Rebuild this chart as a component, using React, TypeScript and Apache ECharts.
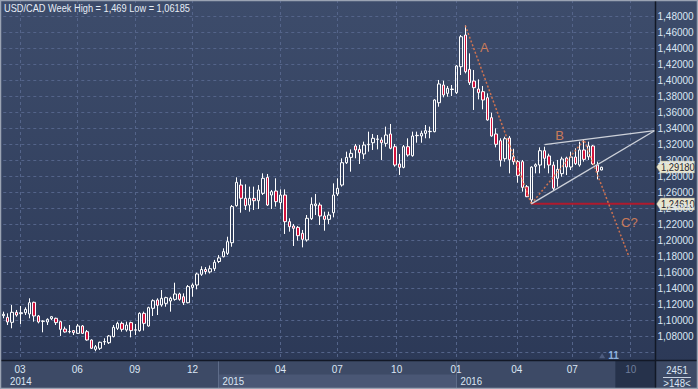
import React, { useEffect, useRef } from 'react';
import * as echarts from 'echarts';

// Weekly USD/CAD candles: [open, close, low, high]
const candles: number[][] = [
  [1.1063, 1.1080, 1.1030, 1.1113], [1.1042, 1.0984, 1.0946, 1.1092], [1.0980, 1.1105, 1.0905, 1.1196],
  [1.1105, 1.1071, 1.1050, 1.1134], [1.1088, 1.1100, 1.0959, 1.1184], [1.1100, 1.1142, 1.1071, 1.1167],
  [1.1084, 1.1225, 1.1030, 1.1280], [1.1230, 1.1059, 1.0988, 1.1238], [1.1059, 1.0984, 1.0967, 1.1071],
  [1.0992, 1.0996, 1.0855, 1.1005], [1.0984, 1.1017, 1.0946, 1.1030], [1.1025, 1.1050, 1.1009, 1.1059],
  [1.1030, 1.0976, 1.0946, 1.1038], [1.0988, 1.0892, 1.0809, 1.1000], [1.0896, 1.0859, 1.0850, 1.0926],
  [1.0865, 1.0862, 1.0842, 1.0946], [1.0876, 1.0851, 1.0821, 1.0884], [1.0842, 1.0934, 1.0834, 1.0959],
  [1.0934, 1.0842, 1.0834, 1.0946], [1.0863, 1.0759, 1.0750, 1.0884], [1.0759, 1.0655, 1.0646, 1.0767],
  [1.0642, 1.0675, 1.0618, 1.0696], [1.0655, 1.0730, 1.0634, 1.0738], [1.0736, 1.0740, 1.0696, 1.0780],
  [1.0725, 1.0809, 1.0709, 1.0821], [1.0801, 1.0917, 1.0792, 1.0946], [1.0905, 1.0967, 1.0884, 1.0988],
  [1.0967, 1.0892, 1.0863, 1.0988], [1.0884, 1.0946, 1.0863, 1.0988], [1.0976, 1.0876, 1.0792, 1.0988],
  [1.0882, 1.0886, 1.0821, 1.0959], [1.0876, 1.1092, 1.0863, 1.1105], [1.1092, 1.0967, 1.0876, 1.1113],
  [1.0934, 1.1163, 1.0926, 1.1175], [1.1155, 1.1250, 1.1059, 1.1267], [1.1259, 1.1192, 1.1071, 1.1280],
  [1.1196, 1.1280, 1.1175, 1.1384], [1.1217, 1.1288, 1.1175, 1.1300], [1.1246, 1.1280, 1.1113, 1.1300],
  [1.1267, 1.1334, 1.1250, 1.1475], [1.1334, 1.1267, 1.1250, 1.1350], [1.1300, 1.1225, 1.1196, 1.1342],
  [1.1225, 1.1426, 1.1217, 1.1446], [1.1417, 1.1446, 1.1300, 1.1467], [1.1446, 1.1584, 1.1392, 1.1600],
  [1.1580, 1.1640, 1.1560, 1.1680], [1.1640, 1.1615, 1.1580, 1.1670], [1.1610, 1.1650, 1.1590, 1.1690],
  [1.1650, 1.1730, 1.1620, 1.1760], [1.1740, 1.1785, 1.1720, 1.1820], [1.1800, 1.1863, 1.1792, 1.1905],
  [1.1842, 1.1988, 1.1821, 1.2050], [1.1975, 1.2426, 1.1925, 1.2446], [1.2438, 1.2730, 1.2426, 1.2792],
  [1.2696, 1.2530, 1.2350, 1.2767], [1.2530, 1.2438, 1.2384, 1.2705], [1.2446, 1.2530, 1.2363, 1.2676],
  [1.2530, 1.2500, 1.2384, 1.2676], [1.2500, 1.2634, 1.2396, 1.2696], [1.2592, 1.2780, 1.2571, 1.2842],
  [1.2792, 1.2446, 1.2434, 1.2834], [1.2571, 1.2613, 1.2396, 1.2634], [1.2621, 1.2488, 1.2426, 1.2780],
  [1.2476, 1.2571, 1.2392, 1.2642], [1.2571, 1.2238, 1.2084, 1.2642], [1.2238, 1.2175, 1.2113, 1.2280],
  [1.2184, 1.2155, 1.1934, 1.2209], [1.2167, 1.2063, 1.2000, 1.2184], [1.2092, 1.2017, 1.1917, 1.2134],
  [1.2009, 1.2280, 1.1988, 1.2321], [1.2275, 1.2455, 1.2259, 1.2542], [1.2438, 1.2459, 1.2321, 1.2584],
  [1.2446, 1.2309, 1.2196, 1.2476], [1.2309, 1.2267, 1.2125, 1.2363], [1.2267, 1.2321, 1.2209, 1.2363],
  [1.2350, 1.2571, 1.2292, 1.2717], [1.2584, 1.2655, 1.2559, 1.2780], [1.2696, 1.2975, 1.2676, 1.3030],
  [1.2975, 1.3042, 1.2959, 1.3113], [1.3042, 1.3092, 1.2863, 1.3142], [1.3184, 1.3134, 1.3030, 1.3209],
  [1.3142, 1.3100, 1.2959, 1.3196], [1.3084, 1.3196, 1.3021, 1.3238], [1.3200, 1.3205, 1.3113, 1.3363],
  [1.3225, 1.3280, 1.3134, 1.3334], [1.3267, 1.3271, 1.3142, 1.3321], [1.3259, 1.3225, 1.3009, 1.3292],
  [1.3217, 1.3321, 1.3175, 1.3426], [1.3334, 1.3155, 1.3142, 1.3459], [1.3175, 1.2946, 1.2925, 1.3209],
  [1.2959, 1.2917, 1.2822, 1.3084], [1.2917, 1.3175, 1.2905, 1.3196], [1.3175, 1.3071, 1.3050, 1.3280],
  [1.3063, 1.3309, 1.3050, 1.3363], [1.3313, 1.3317, 1.3225, 1.3363], [1.3309, 1.3342, 1.3225, 1.3375],
  [1.3342, 1.3375, 1.3280, 1.3446], [1.3363, 1.3367, 1.3280, 1.3426], [1.3363, 1.3759, 1.3355, 1.3767],
  [1.3725, 1.3959, 1.3675, 1.4009], [1.3946, 1.3821, 1.3792, 1.4000], [1.3842, 1.3905, 1.3800, 1.3934],
  [1.3890, 1.3895, 1.3809, 1.3946], [1.3851, 1.4184, 1.3834, 1.4196], [1.4175, 1.4550, 1.4071, 1.4571],
  [1.4571, 1.4113, 1.4092, 1.4690], [1.4142, 1.3975, 1.3946, 1.4342], [1.3996, 1.3913, 1.3634, 1.4134],
  [1.3896, 1.3850, 1.3767, 1.4017], [1.3863, 1.3759, 1.3642, 1.3934], [1.3788, 1.3509, 1.3500, 1.3842],
  [1.3538, 1.3309, 1.3300, 1.3600], [1.3334, 1.3205, 1.3167, 1.3405], [1.3250, 1.3005, 1.2926, 1.3280],
  [1.3025, 1.3275, 1.2988, 1.3300], [1.3284, 1.3013, 1.2842, 1.3309], [1.3050, 1.2988, 1.2950, 1.3150],
  [1.2988, 1.2817, 1.2725, 1.3009], [1.2988, 1.2667, 1.2613, 1.3009], [1.2675, 1.2550, 1.2545, 1.2696],
  [1.2510, 1.2920, 1.2461, 1.2930], [1.2930, 1.2950, 1.2842, 1.2967], [1.2946, 1.3125, 1.2842, 1.3167],
  [1.3125, 1.3030, 1.2905, 1.3175], [1.3059, 1.2946, 1.2842, 1.3088], [1.2946, 1.2655, 1.2634, 1.2988],
  [1.2780, 1.2892, 1.2675, 1.3009], [1.2838, 1.3021, 1.2800, 1.3050], [1.3034, 1.2921, 1.2821, 1.3050],
  [1.2921, 1.3046, 1.2884, 1.3113], [1.3046, 1.2963, 1.2946, 1.3155], [1.2946, 1.3134, 1.2925, 1.3238],
  [1.3134, 1.3017, 1.2988, 1.3259], [1.3050, 1.3184, 1.3009, 1.3238], [1.3184, 1.2959, 1.2946, 1.3196],
  [1.2946, 1.2863, 1.2767, 1.2988], [1.2884, 1.2918, 1.2880, 1.2925],
];

const slotCount = 149;
const slots = Array.from({ length: slotCount }, (_, i) => String(i));

const priceGridLevels = [1.06, 1.08, 1.10, 1.12, 1.14, 1.16, 1.18, 1.20, 1.22, 1.24, 1.26, 1.28, 1.30, 1.32, 1.34, 1.36, 1.38, 1.40, 1.42, 1.44, 1.46, 1.48];
const priceLabelLevels = [1.08, 1.10, 1.12, 1.14, 1.16, 1.18, 1.20, 1.22, 1.24, 1.26, 1.28, 1.30, 1.32, 1.34, 1.36, 1.38, 1.40, 1.42, 1.44, 1.46, 1.48];
const priceMin = 1.05088;
const priceMax = 1.50088;

const monthTickPos = [3.8, 16.8, 29.9, 43.0, 63.0, 75.9, 89.4, 102.9, 116.7, 129.3, 142.6];
const monthTickLabels = ['03', '06', '09', '12', '04', '07', '10', '01', '04', '07', '10'];
const yearLabels = ['2014', '2015', '2016'];
const yearStartPos = [0, 48.8, 102.9];
const futureStartPos = 139.1;

const lastPrice = 1.2918;
const supportLevel = 1.2461;
const waveA = [[105, 1.4690], [120, 1.2461]];
const waveBC = [[120, 1.2461], [132, 1.3259], [142.2, 1.1800]];
const wedgeUpper = [[123, 1.3200], [148, 1.3375]];
const wedgeLower = [[120, 1.2461], [148, 1.3375]];
const supportLine = [[120, 1.2461], [148, 1.2461]];
const waveLabels = [
  { name: 'A', value: [109.3, 1.4409] },
  { name: 'B', value: [126.4, 1.3321] },
  { name: 'C?', value: [142.3, 1.2228] },
];
const eventMarker = { name: '11', value: [136.1, 1.0562] };
const barsTotal = '2451';
const barsVisible = '>148<';
const titleText = 'USD/CAD Week High = 1,469 Low = 1,06185';

const FONT = '"Liberation Sans", Arial, sans-serif';
const fmt = (v: number) => v.toFixed(5).replace('.', ',');

export default function App() {
  const ref = useRef<HTMLDivElement>(null);
  useEffect(() => {
    if (!ref.current) return;
    const chart = echarts.init(ref.current, null, { renderer: 'svg' });
    const orange = '#e8794c';
    chart.setOption({
      animation: false,
      backgroundColor: new echarts.graphic.LinearGradient(0, 0, 0, 1, [
        { offset: 0, color: '#3d4c6b' },
        { offset: 1, color: '#2b3856' },
      ]),
      textStyle: { fontFamily: FONT },
      grid: { left: 3.3, top: 0, width: 651.2, height: 360, containLabel: false },
      xAxis: [
        {
          type: 'category', data: slots, boundaryGap: false, position: 'top', show: false,
        },
        {
          type: 'value', min: 0, max: 148, position: 'bottom',
          axisLine: { show: false },
          axisTick: { show: false, customValues: monthTickPos },
          splitLine: { show: true, lineStyle: { color: '#54648a', type: [3, 3], width: 1 } },
          axisLabel: {
            customValues: monthTickPos,
            margin: 4,
            fontSize: 10,
            color: '#dbe6f4',
            fontFamily: FONT,
            formatter: (v: number) => {
              const i = monthTickPos.findIndex((p) => Math.abs(p - v) < 0.01);
              if (i < 0) return '';
              return v >= futureStartPos ? '{f|' + monthTickLabels[i] + '}' : monthTickLabels[i];
            },
            rich: { f: { color: '#6f7e9b', fontSize: 10, fontFamily: FONT } },
          },
        },
      ],
      yAxis: {
        type: 'value', min: priceMin, max: priceMax, position: 'right', scale: true,
        axisLine: { show: false },
        axisTick: { show: false, customValues: priceGridLevels },
        splitLine: { show: true, lineStyle: { color: '#54648a', type: [3, 3], width: 1 } },
        axisLabel: {
          customValues: priceLabelLevels,
          formatter: (v: number) => fmt(v),
          color: '#dbe6f4', fontSize: 10, margin: 3, fontFamily: FONT,
        },
      },
      series: [
        {
          type: 'candlestick', xAxisIndex: 0, yAxisIndex: 0, data: candles, barWidth: 3,
          itemStyle: {
            color: 'rgba(0,0,0,0)', color0: '#d3123c',
            borderColor: '#ffffff', borderColor0: '#ffffff', borderWidth: 1,
          },
          z: 3,
        },
        {
          type: 'line', xAxisIndex: 1, data: supportLine, symbol: 'none',
          lineStyle: { color: '#b01a2d', width: 2 }, z: 4,
        },
        {
          type: 'line', xAxisIndex: 1, data: waveA, symbol: 'none',
          lineStyle: { color: orange, width: 1.5, type: [2, 2], opacity: 0.85 }, z: 5,
        },
        {
          type: 'line', xAxisIndex: 1, data: waveBC, symbol: 'none',
          lineStyle: { color: orange, width: 1.5, type: [2, 2], opacity: 0.85 }, z: 5,
        },
        {
          type: 'line', xAxisIndex: 1, data: wedgeUpper, symbol: 'none',
          lineStyle: { color: '#cdd1d9', width: 1.3 }, z: 5,
        },
        {
          type: 'line', xAxisIndex: 1, data: wedgeLower, symbol: 'none',
          lineStyle: { color: '#cdd1d9', width: 1.3 }, z: 5,
        },
        {
          type: 'scatter', xAxisIndex: 1, data: waveLabels, symbolSize: 1,
          itemStyle: { color: 'rgba(0,0,0,0)' },
          label: {
            show: true, position: 'inside', formatter: '{b}',
            color: '#f08a56', fontSize: 13, fontFamily: FONT,
          },
          z: 6,
        },
        {
          type: 'scatter', xAxisIndex: 1, data: [eventMarker], symbol: 'triangle', symbolSize: [6, 5],
          itemStyle: { color: '#56658a' },
          label: {
            show: true, position: 'right', distance: 3, formatter: '{b}',
            color: '#a6d0ff', fontSize: 10, fontWeight: 'bold', fontFamily: FONT,
          },
          z: 6,
        },
      ],
    });

    const px = (v: number) => chart.convertToPixel({ xAxisIndex: 1 }, v) as number;
    const py = (v: number) => chart.convertToPixel({ yAxisIndex: 0 }, v) as number;
    const W = 698, H = 389, plotR = 655.5, axisTop = 360.5;

    const tag = (price: number) => {
      const y = Math.round(py(price));
      return {
        type: 'group', x: plotR + 1, y, z: 100,
        children: [
          {
            type: 'polygon',
            shape: { points: [[0, 0], [4, -6], [38, -6], [38, 6], [4, 6]] },
            style: { fill: '#e8e4cb', stroke: '#9a9780', lineWidth: 0.5 },
          },
          {
            type: 'text', x: 4.5, y: 0.5, scaleX: 0.85,
            style: { text: fmt(price), fill: '#1b2231', font: '11px ' + FONT, verticalAlign: 'middle' },
          },
        ],
      };
    };

    const graphics: any[] = [
      { type: 'rect', shape: { x: 0, y: axisTop, width: W, height: H - axisTop }, style: { fill: '#3d4a66' }, z: -1 },
      {
        type: 'rect',
        shape: { x: px(yearStartPos[1]), y: 374.5, width: px(yearStartPos[2]) - px(yearStartPos[1]), height: H - 374.5 },
        style: { fill: '#4a5775' }, z: -1,
      },
      {
        type: 'rect',
        shape: { x: px(futureStartPos), y: axisTop, width: plotR - px(futureStartPos), height: H - axisTop },
        style: { fill: '#26324b' }, z: -1,
      },
    ];
    yearStartPos.forEach((p, i) => {
      const x = px(p);
      if (i > 0) {
        graphics.push({
          type: 'line', shape: { x1: Math.round(x) + 0.5, y1: axisTop, x2: Math.round(x) + 0.5, y2: H },
          style: { stroke: '#5e6c89', lineWidth: 1 }, z: 1,
        });
      }
      graphics.push({
        type: 'text', x: Math.max(x + 4.5, 10), y: 381.5, scaleX: 0.88,
        style: { text: yearLabels[i], fill: '#dbe6f4', font: '11px ' + FONT, verticalAlign: 'middle' },
        z: 2,
      });
    });
    graphics.push(
      { type: 'line', shape: { x1: plotR, y1: 0, x2: plotR, y2: H }, style: { stroke: '#121826', lineWidth: 1.5 }, z: 50 },
      { type: 'line', shape: { x1: 0, y1: axisTop, x2: W, y2: axisTop }, style: { stroke: '#121826', lineWidth: 1.5 }, z: 50 },
      { type: 'rect', shape: { x: 0.5, y: 0.5, width: W - 1, height: H - 1 }, style: { fill: 'none', stroke: '#9aa3b3', lineWidth: 1.5 }, z: 60 },
      {
        type: 'text', x: 4, y: 8, scaleX: 0.84,
        style: { text: titleText, fill: '#e6edf6', font: '11px ' + FONT, verticalAlign: 'middle' }, z: 60,
      },
      {
        type: 'text', x: 677, y: 370, scaleX: 0.88,
        style: { text: barsTotal, fill: '#dbe6f4', font: '11px ' + FONT, align: 'center', verticalAlign: 'middle' }, z: 60,
      },
      { type: 'line', shape: { x1: 663, y1: 377.5, x2: 691, y2: 377.5 }, style: { stroke: '#c9d3e2', lineWidth: 1 }, z: 60 },
      {
        type: 'text', x: 677, y: 383.5, scaleX: 0.88,
        style: { text: barsVisible, fill: '#dbe6f4', font: '11px ' + FONT, align: 'center', verticalAlign: 'middle' }, z: 60,
      },
      tag(lastPrice),
      tag(supportLevel),
    );
    chart.setOption({ graphic: graphics });

    return () => chart.dispose();
  }, []);
  return <div ref={ref} style={{ position: 'fixed', left: 0, top: 0, width: 698, height: 389 }} />;
}
